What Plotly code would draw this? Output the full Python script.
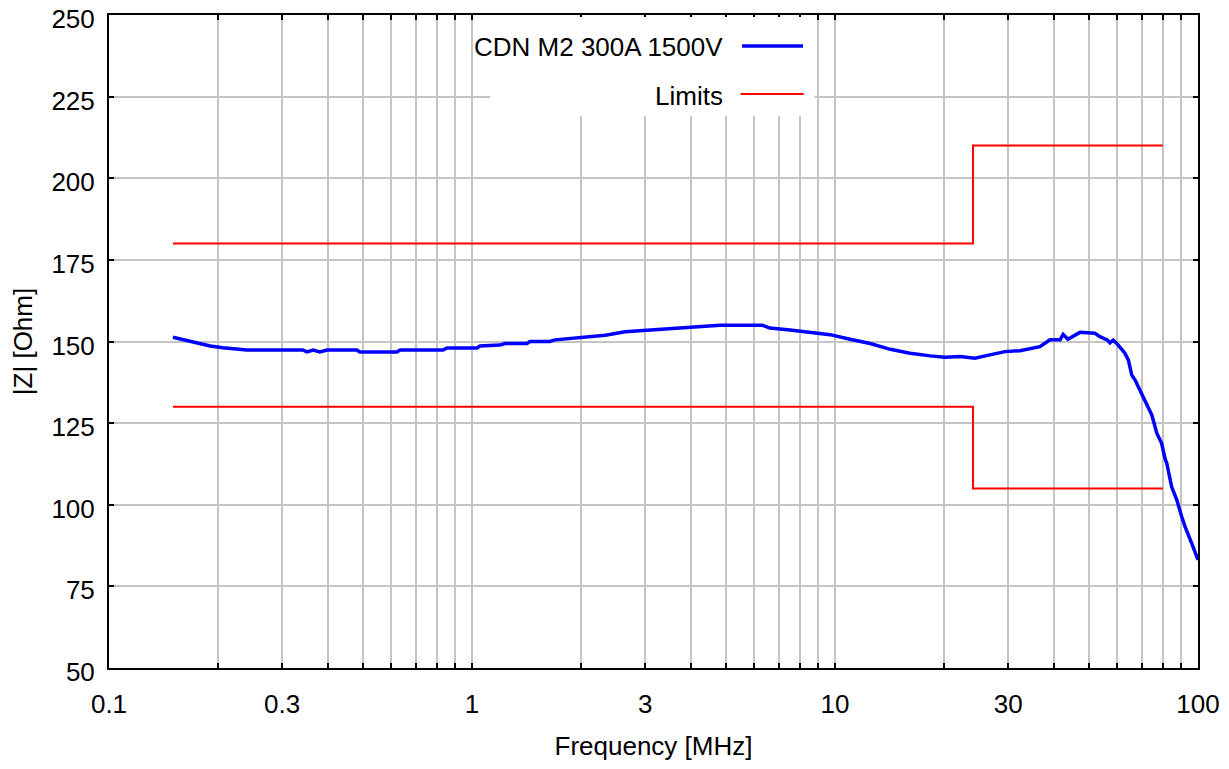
import plotly.graph_objects as go

# Measured impedance |Z| vs frequency
freq_mhz = [0.150, 0.164, 0.178, 0.190, 0.206, 0.240, 0.342, 0.351, 0.365, 0.381, 0.399,
            0.482, 0.491, 0.621, 0.634, 0.832, 0.853, 1.032, 1.052, 1.194, 1.233, 1.417,
            1.445, 1.640, 1.693, 1.98, 2.33, 2.64, 3.09, 3.74, 4.82, 6.3, 6.62, 7.52,
            8.53, 9.69, 11.0, 12.5, 14.2, 16.1, 18.3, 20.1, 22.1, 24.3, 26.7, 29.4,
            32.3, 34.5, 36.7, 39.1, 41.7, 42.5, 43.8, 47.3, 52.0, 53.7, 56.2, 57.2,
            58.4, 60.3, 62.9, 64.3, 65.7, 67.1, 69.2, 72.2, 74.6, 77.0, 79.4, 81.1,
            82.0, 84.6, 87.4, 90.2, 92.1, 96.1, 100.0]
z_ohm = [151.3, 150.2, 149.4, 148.6, 148.1, 147.4, 147.4, 146.8, 147.4, 146.8, 147.4,
         147.4, 146.8, 146.8, 147.4, 147.4, 148.0, 148.0, 148.6, 148.9, 149.4, 149.4,
         150.0, 150.0, 150.5, 151.2, 151.9, 153.0, 153.5, 154.3, 155.0, 155.0, 154.1, 153.5,
         152.8, 152.1, 150.7, 149.4, 147.6, 146.4, 145.6, 145.2, 145.4, 144.9, 145.9, 146.9,
         147.2, 147.9, 148.4, 150.5, 150.5, 152.2, 150.7, 152.8, 152.5, 151.5, 150.5, 149.6,
         150.4, 148.9, 146.4, 144.3, 139.7, 138.2, 135.1, 131.1, 127.5, 121.9, 118.8, 114.2,
         112.8, 105.5, 101.5, 96.3, 93.3, 88.2, 83.1]

# Limits
limit_freq = [0.15, 24, 24, 80]
upper_limit = [180, 180, 210, 210]
lower_limit = [130, 130, 105, 105]

x_tickvals = [0.1, 0.2, 0.3, 0.4, 0.5, 0.6, 0.7, 0.8, 0.9,
              1, 2, 3, 4, 5, 6, 7, 8, 9,
              10, 20, 30, 40, 50, 60, 70, 80, 90, 100]
x_labels = {0.1: "0.1", 0.3: "0.3", 1: "1", 3: "3", 10: "10", 30: "30", 100: "100"}
x_ticktext = [x_labels.get(v, "") for v in x_tickvals]
y_tickvals = [50, 75, 100, 125, 150, 175, 200, 225, 250]

FONT = "Liberation Sans, Arial, sans-serif"
FS = 26

fig = go.Figure()
fig.add_trace(go.Scatter(x=limit_freq, y=upper_limit, mode="lines",
                         line=dict(color="#ff0000", width=2), name="Limits",
                         showlegend=False))
fig.add_trace(go.Scatter(x=limit_freq, y=lower_limit, mode="lines",
                         line=dict(color="#ff0000", width=2), name="Limits",
                         showlegend=False))
fig.add_trace(go.Scatter(x=freq_mhz, y=z_ohm, mode="lines",
                         line=dict(color="#0000ff", width=3.5), name="CDN M2 300A 1500V",
                         showlegend=False))

axis_common = dict(showline=True, linecolor="black", linewidth=2, mirror="ticks",
                   ticks="inside", tickcolor="black", ticklen=5, tickwidth=1.5,
                   showgrid=True, gridcolor="#c4c4c4", gridwidth=2, zeroline=False,
                   automargin=False,
                   tickfont=dict(family=FONT, size=FS, color="black"))

fig.update_xaxes(type="log", range=[-1, 2], tickmode="array", tickvals=x_tickvals,
                 ticktext=x_ticktext, ticklabelstandoff=12,
                 title=dict(text="Frequency [MHz]", font=dict(family=FONT, size=FS, color="black"),
                            standoff=21),
                 **axis_common)
fig.update_yaxes(range=[50, 250], tickmode="array", tickvals=y_tickvals,
                 ticklabelstandoff=7, ticklabeloverflow="allow", ticklabelshift=4,
                 title=dict(text="|Z| [Ohm]", font=dict(family=FONT, size=FS, color="black"),
                            standoff=14),
                 **axis_common)

# Manual legend (line samples to the right of the labels)
fig.add_shape(type="rect", xref="paper", yref="paper", x0=0.35, x1=0.648, y0=0.845, y1=0.997,
              fillcolor="white", line=dict(width=0), layer="above")
fig.add_shape(type="line", xref="paper", yref="paper", x0=0.5813, x1=0.6373, y0=0.9525, y1=0.9525,
              line=dict(color="#0000ff", width=3.5), layer="above")
fig.add_shape(type="line", xref="paper", yref="paper", x0=0.580, x1=0.638, y0=0.879, y1=0.879,
              line=dict(color="#ff0000", width=2), layer="above")
fig.add_annotation(xref="paper", yref="paper", x=0.5657, y=0.951, xanchor="right", yanchor="middle",
                   text="CDN M2 300A 1500V", showarrow=False,
                   font=dict(family=FONT, size=FS, color="black"))
fig.add_annotation(xref="paper", yref="paper", x=0.5657, y=0.876, xanchor="right", yanchor="middle",
                   text="Limits", showarrow=False,
                   font=dict(family=FONT, size=FS, color="black"))

fig.update_layout(width=1213, height=753, plot_bgcolor="white", paper_bgcolor="white",
                  margin=dict(l=101, r=23, t=7, b=93), showlegend=False,
                  font=dict(family=FONT, size=FS, color="black"))

fig.write_html("out.html")
